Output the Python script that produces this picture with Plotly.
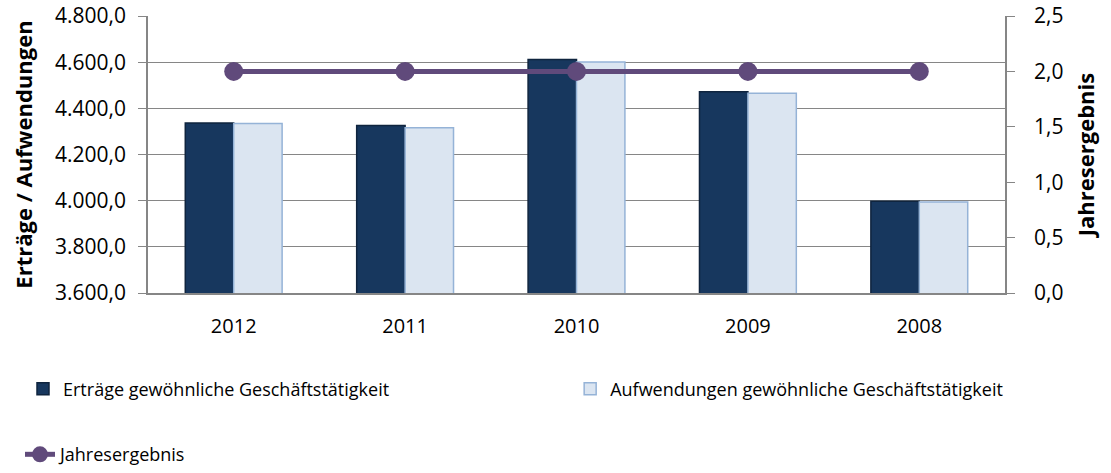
import plotly.graph_objects as go

years = ["2012", "2011", "2010", "2009", "2008"]
ertraege = [4336, 4326, 4612, 4472, 3997]
aufwendungen = [4334, 4316, 4601, 4465, 3994]
jahresergebnis = [2.0, 2.0, 2.0, 2.0, 2.0]

left_ticks = [3600, 3800, 4000, 4200, 4400, 4600, 4800]
right_ticks = [0.0, 0.5, 1.0, 1.5, 2.0, 2.5]

FONT = "Open Sans"
GRID = "#868686"

fig = go.Figure()
fig.add_trace(go.Bar(
    x=years, y=ertraege, name="Erträge gewöhnliche Geschäftstätigkeit",
    marker=dict(color="#17375E", line=dict(color="#0F243E", width=1.5)),
    legend="legend",
))
fig.add_trace(go.Bar(
    x=years, y=aufwendungen, name="Aufwendungen gewöhnliche Geschäftstätigkeit",
    marker=dict(color="#DBE5F1", line=dict(color="#95B3D7", width=1.5)),
    legend="legend2",
))
fig.add_trace(go.Scatter(
    x=years, y=jahresergebnis, name="Jahresergebnis", yaxis="y2",
    mode="lines+markers",
    line=dict(color="#604A7B", width=5),
    marker=dict(color="#604A7B", size=19),
    legend="legend3",
))

legend_common = dict(
    orientation="h", xref="container", yref="container",
    xanchor="left", yanchor="top",
    font=dict(family=FONT, size=18, color="#000000"), bgcolor="rgba(0,0,0,0)",
)

fig.update_layout(
    width=1111, height=473,
    margin=dict(l=148, r=106, t=16, b=180),
    paper_bgcolor="white", plot_bgcolor="white",
    separators=",.",
    font=dict(family=FONT, size=20, color="#000000"),
    barmode="group", bargap=0.435, bargroupgap=0,
    showlegend=True,
    xaxis=dict(
        type="category", showgrid=False, showline=True, linecolor=GRID, linewidth=1.5,
        ticks="outside", ticklen=14, tickcolor="rgba(0,0,0,0)",
        tickfont=dict(size=20), automargin=False,
    ),
    yaxis=dict(
        range=[3600, 4800], tickvals=left_ticks, tickformat=",.1f",
        showgrid=True, gridcolor=GRID, gridwidth=1,
        showline=True, linecolor=GRID, linewidth=1.5,
        ticks="outside", ticklen=8, tickcolor=GRID, ticklabelstandoff=8,
        tickfont=dict(size=21), automargin=False,
        title=dict(text="<b>Erträge / Aufwendungen</b>", font=dict(size=22), standoff=16),
        zeroline=False,
    ),
    yaxis2=dict(
        range=[0, 2.5], tickvals=right_ticks, tickformat=".1f",
        overlaying="y", side="right", showgrid=False,
        showline=True, linecolor=GRID, linewidth=1.5,
        ticks="outside", ticklen=8, tickcolor=GRID, ticklabelstandoff=15,
        tickfont=dict(size=21), automargin=False,
        title=dict(text="<b>Jahresergebnis</b>", font=dict(size=22), standoff=16),
        zeroline=False,
    ),
    legend=dict(**legend_common, x=0.0207, y=0.2167),
    legend2=dict(**legend_common, x=0.5132, y=0.2167),
    legend3=dict(**legend_common, x=0.018, y=0.078),
)

fig.write_html(
    "out.html",
    config={"displayModeBar": False},
    post_script="document.body.style.margin='0';",
)
